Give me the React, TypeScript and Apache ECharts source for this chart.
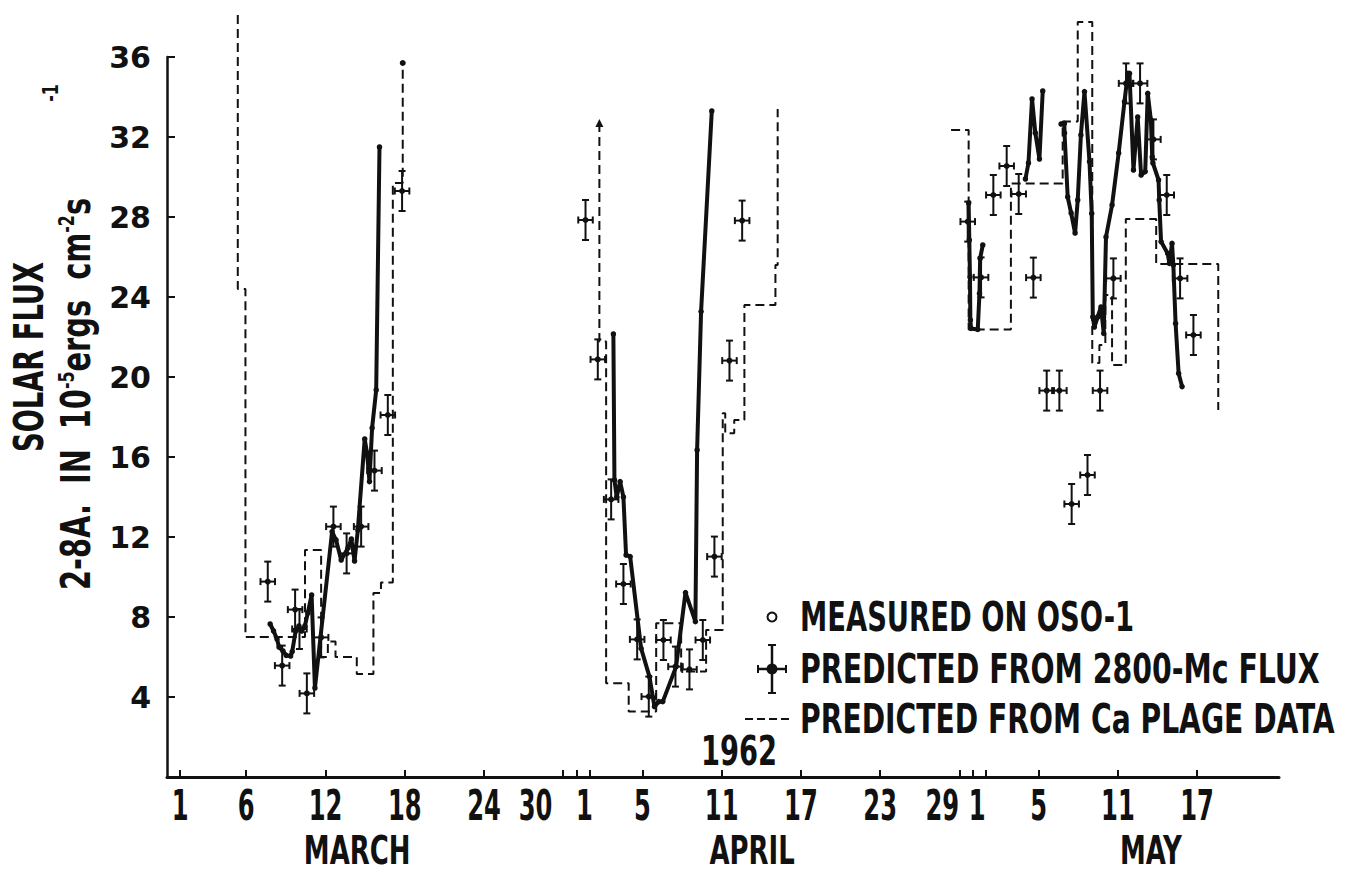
import React, { useEffect, useRef } from 'react';
import * as echarts from 'echarts';

// Day numbering (1962): 1 = March 1, 32 = April 1, 62 = May 1
const xTickDays = [1, 6, 12, 18, 24, 30, 31, 32, 36, 42, 48, 54, 60, 61, 62, 66, 72, 78];
const xLabelDays = [1, 6, 12, 18, 24, 27.9, 31.6, 36, 42, 48, 54, 58.7, 61.35, 66, 72, 78];
const xLabelTexts = ['1', '6', '12', '18', '24', '30', '1', '5', '11', '17', '23', '29', '1', '5', '11', '17'];
const monthDays = [14.4, 44.3, 74.5];
const monthNames = ['MARCH', 'APRIL', 'MAY'];

// Measured on OSO-1 (solid line with dots), [day, flux]
const measuredMarch = [
  [7.81, 7.65], [8.07, 7.3], [8.33, 6.9], [8.48, 6.5], [8.78, 6.3], [9.03, 6.08], [9.36, 6.05],
  [9.48, 6.27], [9.74, 7.3], [9.99, 7.55], [10.2, 7.3], [10.44, 7.55], [10.66, 8.2], [10.95, 9.1],
  [11.2, 4.45], [12.5, 12.27], [12.8, 11.85], [13.19, 10.85], [13.7, 11.45], [13.96, 11.9],
  [14.2, 10.8], [14.45, 12.35], [14.97, 16.9], [15.15, 16.2], [15.33, 14.77], [15.53, 17.45],
  [15.84, 19.35], [16.09, 31.5],
];
const measuredApril = [
  [33.8, 22.15], [33.88, 14.85], [34.05, 14.0], [34.31, 14.77], [34.56, 14.0], [34.76, 11.1],
  [35.07, 11.02], [35.9, 6.43], [36.53, 5.02], [36.91, 3.52], [37.24, 3.77], [37.54, 3.77],
  [38.55, 5.52], [39.26, 9.22], [40.01, 7.77], [40.14, 16.35], [40.44, 23.27], [41.25, 33.3],
];
const measuredMayA = [
  [60.7, 28.7], [60.75, 26.85], [60.8, 25.0], [60.83, 22.85], [60.88, 22.43], [61.39, 22.38],
  [61.52, 24.18], [61.57, 25.93], [61.77, 26.6],
];
const measuredMayB = [
  [65.0, 29.9], [65.23, 30.7], [65.5, 33.9], [65.75, 32.2], [66.06, 30.9], [66.31, 34.3],
];
const measuredMayC = [
  [67.7, 32.65], [67.95, 32.68], [67.96, 32.2], [68.2, 29.0], [68.46, 28.2], [68.76, 27.2],
  [68.96, 28.85], [69.2, 32.1], [69.47, 34.27], [69.85, 30.77], [70.02, 28.18], [70.1, 23.0],
  [70.22, 22.5], [70.47, 23.0], [70.72, 23.5], [70.93, 22.18], [71.1, 27.0], [71.56, 28.6],
  [72.06, 31.2], [72.5, 33.77], [72.75, 35.18], [72.88, 35.18], [73.18, 30.35], [73.5, 33.0],
  [73.76, 30.1], [74.07, 30.27], [74.26, 34.18], [74.5, 32.85], [74.6, 31.0], [74.65, 30.7],
  [75.08, 29.85], [75.13, 28.85], [75.27, 26.77], [75.77, 26.18], [75.9, 25.68], [76.1, 26.68],
  [76.2, 25.6], [76.37, 22.68], [76.6, 20.18], [76.86, 19.52],
];

// Predicted from 2800-Mc flux (points with error crosses), [day, flux]
const predicted2800 = [
  [7.63, 9.77], [8.72, 5.57], [9.7, 8.37], [10.03, 7.4], [10.59, 4.18], [11.67, 6.98],
  [12.6, 12.52], [13.6, 11.18], [14.7, 12.52], [15.71, 15.32], [16.72, 18.1], [17.8, 29.3],
  [31.69, 27.85], [32.62, 20.88], [33.63, 13.88], [34.56, 9.65], [35.6, 6.88], [36.48, 4.02],
  [37.59, 6.85], [38.5, 5.52], [39.56, 5.38], [40.57, 6.85], [41.45, 11.02], [42.59, 20.82],
  [43.55, 27.82],
  [60.63, 27.77], [61.64, 24.98], [62.57, 29.1], [63.58, 30.55], [64.49, 29.15], [65.6, 24.97],
  [66.61, 19.32], [67.57, 19.32], [68.5, 13.65], [69.7, 15.1], [70.65, 19.32], [71.66, 24.93],
  [72.62, 34.68], [73.68, 34.68], [74.69, 31.88], [75.7, 29.1], [76.71, 24.93], [77.72, 22.1],
];
const errDays = 0.55;
const errFlux = 1.0;

// Predicted from Ca plage data (dashed steps): [segment end day, level of that segment]
const plageMarch = [
  [5.36, 38.1], [5.94, 24.4], [10.45, 7.0], [11.67, 11.35], [12.18, 6.0], [12.76, 6.77],
  [14.37, 6.0], [15.63, 5.15], [16.2, 9.2], [17.1, 9.73], [17.85, 29.7], [17.85, 35.7],
];
const plageApril = [
  [32.74, 32.7], [33.25, 21.77], [34.96, 4.69], [37.04, 3.27], [38.93, 7.69], [40.82, 5.27],
  [42.08, 7.35], [42.27, 18.19], [42.95, 17.19], [43.72, 17.85], [46.07, 23.6], [46.24, 25.6],
  [46.24, 33.4],
];
const plageMay = [
  [59.37, 32.35], [60.7, 32.35], [63.9, 22.38], [67.82, 29.68], [68.96, 32.77], [70.06, 37.75],
  [70.6, 20.7], [71.05, 21.6], [71.56, 24.1], [72.6, 20.6], [74.9, 27.9], [79.6, 25.65],
  [79.6, 18.35],
];

const legendTexts = ['MEASURED ON OSO-1', 'PREDICTED FROM 2800-Mc FLUX', 'PREDICTED FROM Ca PLAGE DATA'];

const COND = "'Liberation Sans Narrow', 'DejaVu Sans Condensed', 'Arial Narrow', sans-serif";
const WIDE = "'DejaVu Sans', 'Liberation Sans', sans-serif";
const INK = '#111';

function fitScale(text: string, font: string, target: number): number {
  const ctx = document.createElement('canvas').getContext('2d');
  if (!ctx) return 1;
  ctx.font = font;
  const w = ctx.measureText(text).width;
  return w > 0 ? target / w : 1;
}

export default function App() {
  const ref = useRef<HTMLDivElement>(null);

  useEffect(() => {
    if (!ref.current) return;
    const chart = echarts.init(ref.current, undefined, { renderer: 'svg' });
    const cf = (size: number) => `bold ${size}px ${COND}`;

    const measuredSeries = [measuredMarch, measuredApril, measuredMayA, measuredMayB, measuredMayC].map((d) => ({
      name: legendTexts[0],
      type: 'line',
      data: d,
      symbol: 'circle',
      symbolSize: 5.5,
      showSymbol: true,
      clip: false,
      lineStyle: { color: INK, width: 4 },
      itemStyle: { color: INK },
      z: 4,
      silent: true,
    }));

    const withEndMark = (arr: number[][], idx: number, symbol: string, size: number) =>
      arr.map((p, i) => (i === idx ? { value: p, symbol, symbolSize: size } : { value: p }));

    const plageData = [
      withEndMark(plageMarch, plageMarch.length - 1, 'circle', 6),
      withEndMark(plageApril, 0, 'triangle', 8),
      withEndMark(plageMay, -1, 'none', 0),
    ];
    const plageSeries = plageData.map((d) => ({
      name: legendTexts[2],
      type: 'line',
      step: 'start',
      data: d,
      symbol: 'none',
      showSymbol: true,
      clip: false,
      lineStyle: { color: INK, width: 2, type: [9, 5] },
      itemStyle: { color: INK },
      z: 2,
      silent: true,
    }));

    const crossSeries = {
      name: legendTexts[1],
      type: 'custom',
      data: predicted2800,
      encode: { x: 0, y: 1 },
      clip: false,
      z: 3,
      silent: true,
      renderItem: (_params: any, api: any) => {
        const x = api.value(0);
        const y = api.value(1);
        const c = api.coord([x, y]);
        const t = api.coord([x, y + errFlux]);
        const b = api.coord([x, y - errFlux]);
        const l = api.coord([x - errDays, y]);
        const r = api.coord([x + errDays, y]);
        const cap = 3.5;
        const st = { stroke: INK, lineWidth: 2 };
        return {
          type: 'group',
          children: [
            { type: 'line', shape: { x1: t[0], y1: t[1], x2: b[0], y2: b[1] }, style: st },
            { type: 'line', shape: { x1: l[0], y1: l[1], x2: r[0], y2: r[1] }, style: st },
            { type: 'line', shape: { x1: t[0] - cap, y1: t[1], x2: t[0] + cap, y2: t[1] }, style: st },
            { type: 'line', shape: { x1: b[0] - cap, y1: b[1], x2: b[0] + cap, y2: b[1] }, style: st },
            { type: 'line', shape: { x1: l[0], y1: l[1] - cap, x2: l[0], y2: l[1] + cap }, style: st },
            { type: 'line', shape: { x1: r[0], y1: r[1] - cap, x2: r[0], y2: r[1] + cap }, style: st },
            { type: 'circle', shape: { cx: c[0], cy: c[1], r: 3 }, style: { fill: INK } },
          ],
        };
      },
    };

    // Day-number labels and month names placed on the x scale (condensed lettering)
    const dayLabelSeries = {
      type: 'custom',
      data: xLabelDays.map((d) => [d, 0]),
      encode: { x: 0, y: 1 },
      clip: false,
      silent: true,
      z: 5,
      renderItem: (params: any, api: any) => {
        const p = api.coord([api.value(0), 0]);
        return {
          type: 'text', x: p[0], y: p[1] + 28, scaleX: 0.64,
          style: { text: xLabelTexts[params.dataIndex], font: cf(42), fill: INK, align: 'center', verticalAlign: 'middle' },
        };
      },
    };
    const monthLabelSeries = {
      type: 'custom',
      data: monthDays.map((d) => [d, 0]),
      encode: { x: 0, y: 1 },
      clip: false,
      silent: true,
      z: 5,
      renderItem: (params: any, api: any) => {
        const p = api.coord([api.value(0), 0]);
        return {
          type: 'text', x: p[0], y: p[1] + 73, scaleX: 0.74,
          style: { text: monthNames[params.dataIndex], font: cf(39), fill: INK, align: 'center', verticalAlign: 'middle' },
        };
      },
    };

    // ---- graphics: axis title, legend, year ----
    const titleFont = cf(40);
    const supFont = cf(22);
    const mainPart = '2-8A.  IN  10ergs  cm' + 's';
    const w2 = 1 / fitScale(mainPart, titleFont, 1) + 2 / fitScale('-5', supFont, 1);
    const scale2 = w2 > 0 ? 392 / w2 : 1;

    const legendY = [617, 669, 719];
    const legendW = [334, 520, 535];
    const legendFont = cf(40);

    const graphic: any[] = [
      {
        type: 'text', x: 29, y: 357, rotation: Math.PI / 2,
        scaleX: fitScale('SOLAR FLUX', titleFont, 190),
        style: { text: 'SOLAR FLUX', font: titleFont, fill: INK, align: 'center', verticalAlign: 'middle' },
      },
      {
        type: 'text', x: 76, y: 394, rotation: Math.PI / 2, scaleX: scale2,
        style: {
          text: '2-8A.  IN  10{s|-5}ergs  cm{s|-2}s',
          fontFamily: COND, fontWeight: 'bold', fontSize: 40, fill: INK,
          align: 'center', verticalAlign: 'middle',
          rich: { s: { fontFamily: COND, fontWeight: 'bold', fontSize: 22, verticalAlign: 'top', fill: INK } },
        },
      },
      {
        type: 'text', x: 51, y: 93, rotation: Math.PI / 2, scaleX: scale2,
        style: { text: '-1', font: supFont, fill: INK, align: 'center', verticalAlign: 'middle' },
      },
      // legend symbols
      { type: 'circle', shape: { cx: 772, cy: legendY[0], r: 4.5 }, style: { fill: '#fff', stroke: INK, lineWidth: 2 } },
      { type: 'line', shape: { x1: 772, y1: legendY[1] - 24, x2: 772, y2: legendY[1] + 24 }, style: { stroke: INK, lineWidth: 2.5 } },
      { type: 'line', shape: { x1: 758, y1: legendY[1], x2: 786, y2: legendY[1] }, style: { stroke: INK, lineWidth: 2.5 } },
      { type: 'line', shape: { x1: 768, y1: legendY[1] - 24, x2: 776, y2: legendY[1] - 24 }, style: { stroke: INK, lineWidth: 2 } },
      { type: 'line', shape: { x1: 768, y1: legendY[1] + 24, x2: 776, y2: legendY[1] + 24 }, style: { stroke: INK, lineWidth: 2 } },
      { type: 'line', shape: { x1: 758, y1: legendY[1] - 4, x2: 758, y2: legendY[1] + 4 }, style: { stroke: INK, lineWidth: 2 } },
      { type: 'line', shape: { x1: 786, y1: legendY[1] - 4, x2: 786, y2: legendY[1] + 4 }, style: { stroke: INK, lineWidth: 2 } },
      { type: 'circle', shape: { cx: 772, cy: legendY[1], r: 5.5 }, style: { fill: INK } },
      { type: 'line', shape: { x1: 745, y1: legendY[2], x2: 791, y2: legendY[2] }, style: { stroke: INK, lineWidth: 2, lineDash: [8, 4] } },
      ...legendTexts.map((t, i) => ({
        type: 'text', x: 800, y: legendY[i], scaleX: fitScale(t, legendFont, legendW[i]),
        style: { text: t, font: legendFont, fill: INK, align: 'left', verticalAlign: 'middle' },
      })),
      {
        type: 'text', x: 739, y: 751, scaleX: fitScale('1962', legendFont, 76),
        style: { text: '1962', font: legendFont, fill: INK, align: 'center', verticalAlign: 'middle' },
      },
    ];

    const option: any = {
      animation: false,
      backgroundColor: '#fff',
      grid: { left: 167, top: 57, width: 1112, height: 720, containLabel: false },
      xAxis: {
        type: 'value', min: 0, max: 84.2, position: 'bottom',
        axisLine: { show: true, onZero: false, lineStyle: { color: INK, width: 3 } },
        axisTick: { show: true, inside: true, length: 7, customValues: xTickDays, lineStyle: { color: INK, width: 2 } },
        axisLabel: { show: false },
        splitLine: { show: false },
      },
      yAxis: {
        type: 'value', min: 0, max: 36, interval: 4,
        axisLine: { show: true, onZero: false, lineStyle: { color: INK, width: 2.5 } },
        axisTick: { show: true, inside: true, length: 8, lineStyle: { color: INK, width: 2 } },
        axisLabel: { showMinLabel: false, color: INK, fontFamily: WIDE, fontWeight: 'bold', fontSize: 30, margin: 16 },
        splitLine: { show: false },
      },
      series: [...plageSeries, crossSeries, ...measuredSeries, dayLabelSeries, monthLabelSeries],
      graphic,
    };

    chart.setOption(option);
    return () => chart.dispose();
  }, []);

  return (
    <div
      ref={ref}
      style={{ position: 'fixed', left: 0, top: 0, width: 1353, height: 872, background: '#fff' }}
    />
  );
}
